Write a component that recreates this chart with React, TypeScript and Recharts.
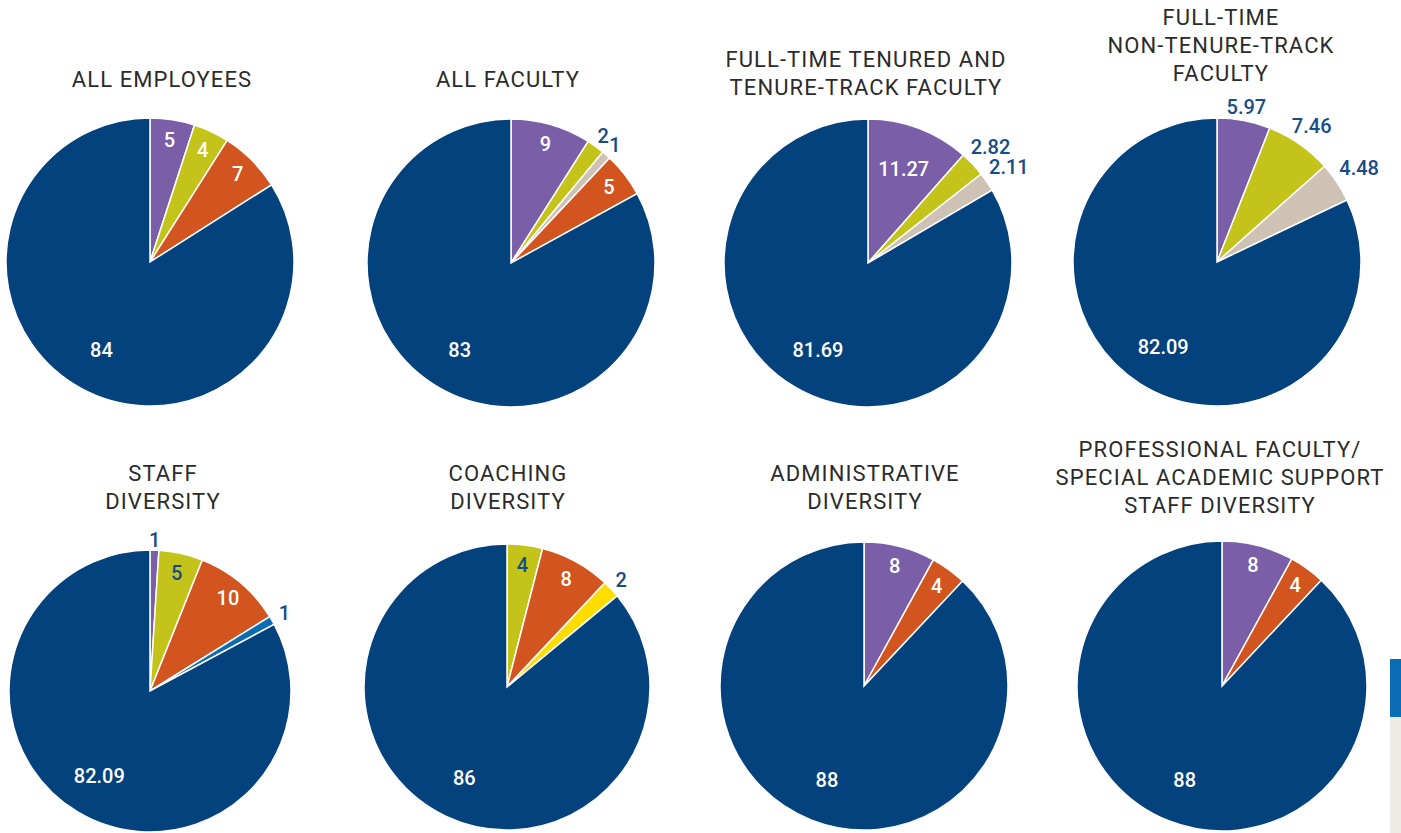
import React from 'react';
import { PieChart, Pie, Cell } from 'recharts';

// slice colour per group key
const groupColors: Record<string, string> = {
  purple: '#7A5EA8',
  lime: '#C3C31A',
  tan: '#CEC2B4',
  orange: '#D2541F',
  blue: '#0A6CB5',
  yellow: '#FFDD00',
  navy: '#03427C',
};
const labelNavy = '#164C87';

// ---- data ----
const allEmployeesGroups = ['purple', 'lime', 'orange', 'navy'];
const allEmployeesValues = [5, 4, 7, 84];

const allFacultyGroups = ['purple', 'lime', 'tan', 'orange', 'navy'];
const allFacultyValues = [9, 2, 1, 5, 83];

const tenuredGroups = ['purple', 'lime', 'tan', 'navy'];
const tenuredValues = [11.27, 2.82, 2.11, 81.69];

const nonTenureGroups = ['purple', 'lime', 'tan', 'navy'];
const nonTenureValues = [5.97, 7.46, 4.48, 82.09];

const staffGroups = ['purple', 'lime', 'orange', 'blue', 'navy'];
const staffValues = [1, 5, 10, 1, 82.09];

const coachingGroups = ['lime', 'orange', 'yellow', 'navy'];
const coachingValues = [4, 8, 2, 86];

const adminGroups = ['purple', 'orange', 'navy'];
const adminValues = [8, 4, 88];

const professionalGroups = ['purple', 'orange', 'navy'];
const professionalValues = [8, 4, 88];

// where each value label sits: edge = white near rim, edgeDark = navy near rim,
// inner = white further in, out = navy outside the pie
const allEmployeesPlacement = ['edge', 'edge', 'edge', 'inner'];
const allFacultyPlacement = ['edge', 'out', 'out', 'edge', 'inner'];
const tenuredPlacement = ['inner', 'out', 'out', 'inner'];
const nonTenurePlacement = ['out', 'out', 'out', 'inner'];
const staffPlacement = ['out', 'edgeDark', 'edge', 'out', 'inner'];
const coachingPlacement = ['edgeDark', 'edge', 'out', 'inner'];
const adminPlacement = ['edge', 'edge', 'inner'];
const professionalPlacement = ['edge', 'edge', 'inner'];

const RAD = Math.PI / 180;

const makeLabel = (placements: string[]) => (props: any) => {
  const { cx, cy, midAngle, outerRadius, index, value } = props;
  const mode = placements[index];
  const text = String(value);
  const cos = Math.cos(-midAngle * RAD);
  const sin = Math.sin(-midAngle * RAD);
  let r = outerRadius * 0.86;
  if (mode === 'inner') r = outerRadius * 0.7;
  if (mode === 'out') r = outerRadius + 10 + Math.abs(cos) * text.length * 5;
  const fill = mode === 'out' || mode === 'edgeDark' ? labelNavy : '#ffffff';
  return (
    <text
      x={cx + r * cos}
      y={cy + r * sin}
      fill={fill}
      textAnchor="middle"
      dominantBaseline="central"
      style={{ fontFamily: 'Roboto, sans-serif', fontSize: 20, fontWeight: 500 }}
    >
      {text}
    </text>
  );
};

const buildRows = (groups: string[], values: number[]) =>
  groups.map((g, i) => ({ name: g, value: values[i] }));

interface Panel {
  title: string[];
  titleX: number;
  titleY: number; // centre of first title line
  cx: number;
  cy: number;
  r: number;
  groups: string[];
  values: number[];
  placement: string[];
}

const panels: Panel[] = [
  { title: ['ALL EMPLOYEES'], titleX: 162, titleY: 80, cx: 150, cy: 262, r: 144, groups: allEmployeesGroups, values: allEmployeesValues, placement: allEmployeesPlacement },
  { title: ['ALL FACULTY'], titleX: 508, titleY: 80, cx: 511, cy: 263, r: 144, groups: allFacultyGroups, values: allFacultyValues, placement: allFacultyPlacement },
  { title: ['FULL-TIME TENURED AND', 'TENURE-TRACK FACULTY'], titleX: 866, titleY: 60, cx: 868, cy: 263, r: 144, groups: tenuredGroups, values: tenuredValues, placement: tenuredPlacement },
  { title: ['FULL-TIME', 'NON-TENURE-TRACK', 'FACULTY'], titleX: 1221, titleY: 18, cx: 1217, cy: 262, r: 144, groups: nonTenureGroups, values: nonTenureValues, placement: nonTenurePlacement },
  { title: ['STAFF', 'DIVERSITY'], titleX: 163, titleY: 474, cx: 150, cy: 691, r: 141, groups: staffGroups, values: staffValues, placement: staffPlacement },
  { title: ['COACHING', 'DIVERSITY'], titleX: 508, titleY: 474, cx: 507, cy: 687, r: 143, groups: coachingGroups, values: coachingValues, placement: coachingPlacement },
  { title: ['ADMINISTRATIVE', 'DIVERSITY'], titleX: 865, titleY: 474, cx: 864, cy: 686, r: 144, groups: adminGroups, values: adminValues, placement: adminPlacement },
  { title: ['PROFESSIONAL FACULTY/', 'SPECIAL ACADEMIC SUPPORT', 'STAFF DIVERSITY'], titleX: 1220, titleY: 450, cx: 1222, cy: 686, r: 145, groups: professionalGroups, values: professionalValues, placement: professionalPlacement },
];

const LINE_H = 28;

export default function App() {
  return (
    <div
      style={{
        position: 'absolute',
        left: 0,
        top: 0,
        width: 1401,
        height: 833,
        background: '#ffffff',
        overflow: 'hidden',
        fontFamily: 'Roboto, sans-serif',
      }}
    >
      <div style={{ position: 'absolute', left: 0, top: 0 }}>
        <PieChart width={1401} height={833} margin={{ top: 0, right: 0, bottom: 0, left: 0 }}>
          {panels.map((p, pi) => (
            <Pie
              key={pi}
              data={buildRows(p.groups, p.values)}
              dataKey="value"
              nameKey="name"
              cx={p.cx}
              cy={p.cy}
              outerRadius={p.r}
              startAngle={90}
              endAngle={-270}
              stroke="#ffffff"
              strokeWidth={1.5}
              labelLine={false}
              label={makeLabel(p.placement)}
              isAnimationActive={false}
            >
              {p.groups.map((g, i) => (
                <Cell key={i} fill={groupColors[g]} />
              ))}
            </Pie>
          ))}
        </PieChart>
      </div>

      {/* chart titles */}
      {panels.map((p, pi) => (
        <div
          key={'t' + pi}
          style={{
            position: 'absolute',
            left: p.titleX - 200,
            top: p.titleY - LINE_H / 2,
            width: 400,
            textAlign: 'center',
            fontSize: 22,
            lineHeight: LINE_H + 'px',
            letterSpacing: 1.1,
            color: '#2b2b2b',
            whiteSpace: 'nowrap',
          }}
        >
          {p.title.map((line, li) => (
            <div key={li}>{line}</div>
          ))}
        </div>
      ))}

      {/* page edge marker */}
      <div style={{ position: 'absolute', left: 1390, top: 659, width: 11, height: 58, background: '#0A6CB5' }} />
      <div style={{ position: 'absolute', left: 1390, top: 717, width: 11, height: 116, background: '#EEEBE6' }} />
    </div>
  );
}
